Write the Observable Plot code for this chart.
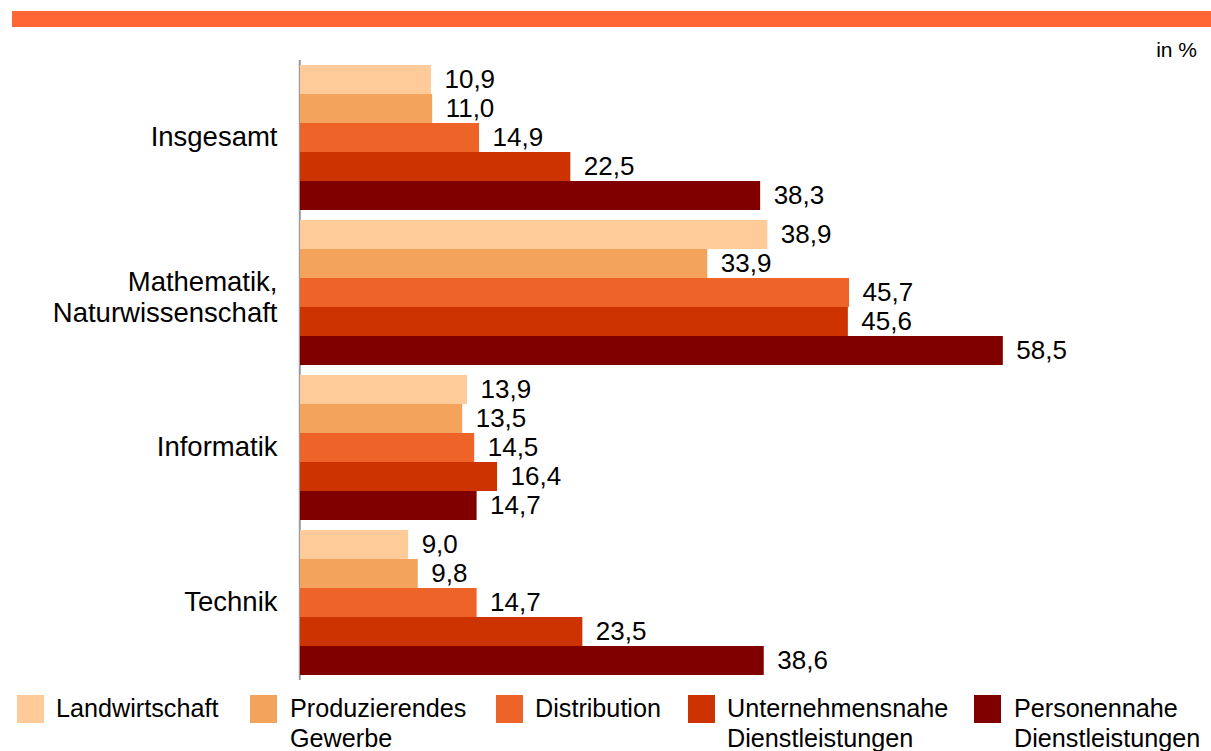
<!DOCTYPE html>
<html>
<head>
<meta charset="utf-8">
<script src="https://cdn.jsdelivr.net/npm/d3@7"></script>
<script src="https://cdn.jsdelivr.net/npm/@observablehq/plot@0.6"></script>
<style>
  html, body { margin: 0; padding: 0; background: #fff; }
  body { width: 1211px; height: 751px; position: relative; overflow: hidden; font-family: "Liberation Sans", Arial, sans-serif; color: #000; }
  #topbar { position: absolute; left: 12px; right: 0; top: 11px; height: 16px; background: #FF6633; }
  #unit { position: absolute; right: 14px; top: 37px; font-size: 21px; line-height: 26px; }
  #chart { position: absolute; left: 0; top: 0; }
  .sw { position: absolute; width: 27px; height: 28px; }
  .lt { position: absolute; font-size: 25.2px; line-height: 30px; white-space: nowrap; }
</style>
</head>
<body>
<div id="topbar"></div>
<div id="unit">in %</div>
<div id="chart"></div>
<div id="legend"></div>
<script>
// Categories (y groups)
const categories = ["Insgesamt", "Mathematik,\nNaturwissenschaft", "Informatik", "Technik"];
// Series (sectors)
const sectors = ["Landwirtschaft", "Produzierendes Gewerbe", "Distribution", "Unternehmensnahe Dienstleistungen", "Personennahe Dienstleistungen"];
// Values per sector, in category order
const landwirtschaft   = [10.9, 38.9, 13.9, 9.0];
const produzierendes   = [11.0, 33.9, 13.5, 9.8];
const distribution     = [14.9, 45.7, 14.5, 14.7];
const unternehmensnahe = [22.5, 45.6, 16.4, 23.5];
const personennahe     = [38.3, 58.5, 14.7, 38.6];
const colors = ["#FFCC99", "#F4A35C", "#EE6328", "#CC3300", "#800000"];

const series = [landwirtschaft, produzierendes, distribution, unternehmensnahe, personennahe];
const data = [];
categories.forEach((c, i) => {
  sectors.forEach((s, j) => data.push({category: c, sector: s, value: series[j][i]}));
});
const fmt = v => v.toFixed(1).replace(".", ",");

const chart = Plot.plot({
  width: 1211,
  height: 690,
  marginLeft: 300,
  marginRight: 70,
  marginTop: 65,
  marginBottom: 14,
  style: {fontFamily: "'Liberation Sans', Arial, sans-serif", background: "transparent"},
  x: {domain: [0, 70], axis: null},
  y: {domain: sectors, axis: null, padding: 0},
  fy: {domain: categories, axis: null, paddingInner: 0.0645, paddingOuter: 0},
  color: {domain: sectors, range: colors},
  marks: [
    Plot.ruleX([0], {stroke: "#9a9a9a", strokeWidth: 2, dx: -0.7, insetTop: -5, insetBottom: -5}),
    Plot.barX(data, {x: "value", y: "sector", fy: "category", fill: "sector"}),
    Plot.text(data, {x: "value", y: "sector", fy: "category", text: d => fmt(d.value),
      textAnchor: "start", dx: 13, fontSize: 26, fill: "#000"}),
    Plot.text(categories, {filter: d => !d.includes("\n"), fy: d => d, text: d => d, frameAnchor: "left", textAnchor: "end",
      dx: -23, dy: -1, fontSize: 27.5, fill: "#000"}),
    Plot.text(categories, {filter: d => d.includes("\n"), fy: d => d, text: d => d, frameAnchor: "left", textAnchor: "end",
      dx: -23, dy: 4, fontSize: 27.5, lineHeight: 1.13, fill: "#000"})
  ]
});
document.getElementById("chart").appendChild(chart);

// Legend
const swX = [17, 250, 496, 688, 974];
const txX = [56, 290, 535, 727, 1014];
const legend = document.getElementById("legend");
sectors.forEach((s, j) => {
  const sw = document.createElement("div");
  sw.className = "sw";
  sw.style.left = swX[j] + "px";
  sw.style.top = "695px";
  sw.style.background = colors[j];
  legend.appendChild(sw);
  const t = document.createElement("div");
  t.className = "lt";
  t.style.left = txX[j] + "px";
  t.style.top = "693px";
  t.innerHTML = s.split(" ").join("<br>");
  legend.appendChild(t);
});
</script>
</body>
</html>
